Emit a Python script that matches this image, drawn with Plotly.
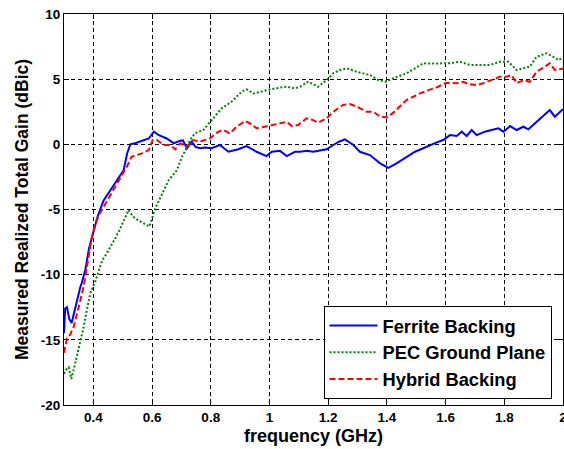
import plotly.graph_objects as go

ferrite_f = [0.300, 0.304, 0.310, 0.318, 0.326, 0.335, 0.345, 0.355, 0.361, 0.373, 0.385, 0.401, 0.415, 0.435, 0.455, 0.475, 0.490, 0.503, 0.515, 0.526, 0.545, 0.560, 0.575, 0.589, 0.606, 0.623, 0.650, 0.674, 0.696, 0.705, 0.719, 0.735, 0.748, 0.763, 0.780, 0.803, 0.831, 0.860, 0.894, 0.922, 0.956, 0.990, 1.008, 1.036, 1.059, 1.087, 1.104, 1.127, 1.149, 1.172, 1.195, 1.217, 1.237, 1.257, 1.286, 1.308, 1.342, 1.377, 1.405, 1.433, 1.467, 1.496, 1.524, 1.547, 1.570, 1.592, 1.615, 1.638, 1.655, 1.672, 1.689, 1.706, 1.734, 1.757, 1.780, 1.797, 1.820, 1.842, 1.865, 1.882, 1.910, 1.938, 1.955, 1.972, 1.995, 2.000]
ferrite_v = [-14.5, -12.6, -12.5, -13.4, -13.7, -12.8, -12.0, -11.0, -10.6, -9.6, -8.0, -6.6, -5.5, -4.3, -3.6, -2.9, -2.4, -2.0, -0.7, 0.0, 0.1, 0.2, 0.35, 0.45, 0.97, 0.7, 0.45, 0.08, 0.28, 0.3, -0.3, 0.2, -0.2, -0.3, -0.25, -0.3, -0.05, -0.57, -0.38, -0.13, -0.57, -0.9, -0.57, -0.5, -0.9, -0.57, -0.57, -0.5, -0.57, -0.5, -0.38, -0.05, 0.2, 0.38, -0.05, -0.57, -0.82, -1.46, -1.8, -1.46, -0.95, -0.57, -0.3, -0.05, 0.15, 0.33, 0.71, 0.64, 0.97, 0.64, 1.1, 0.71, 0.97, 1.1, 1.23, 0.97, 1.4, 1.1, 1.35, 1.15, 1.73, 2.25, 2.63, 2.12, 2.63, 2.7]

pec_f = [0.300, 0.304, 0.310, 0.316, 0.325, 0.334, 0.344, 0.355, 0.367, 0.378, 0.390, 0.407, 0.424, 0.430, 0.445, 0.458, 0.475, 0.492, 0.505, 0.520, 0.531, 0.543, 0.558, 0.571, 0.591, 0.611, 0.633, 0.657, 0.685, 0.702, 0.715, 0.729, 0.746, 0.775, 0.803, 0.837, 0.871, 0.905, 0.922, 0.945, 0.973, 1.002, 1.036, 1.059, 1.087, 1.104, 1.132, 1.150, 1.166, 1.195, 1.217, 1.240, 1.263, 1.297, 1.342, 1.371, 1.397, 1.422, 1.467, 1.496, 1.524, 1.547, 1.581, 1.615, 1.649, 1.683, 1.717, 1.751, 1.785, 1.814, 1.842, 1.870, 1.887, 1.910, 1.944, 1.967, 1.984, 1.995, 2.000]
pec_v = [-17.6, -17.45, -17.2, -17.1, -18.0, -17.2, -16.3, -15.2, -14.0, -12.7, -11.4, -10.5, -9.4, -8.9, -8.4, -7.9, -7.2, -6.45, -5.8, -5.04, -5.4, -5.7, -5.9, -6.06, -6.3, -4.9, -3.9, -2.74, -1.97, -0.95, -0.4, 0.33, 0.84, 1.1, 1.86, 2.76, 3.27, 4.04, 4.22, 3.9, 4.04, 4.22, 4.35, 4.42, 4.3, 4.42, 4.8, 4.6, 4.42, 4.93, 5.45, 5.7, 5.83, 5.57, 5.32, 4.93, 4.8, 5.07, 5.45, 5.83, 6.22, 6.2, 6.22, 6.22, 6.34, 6.09, 6.09, 6.09, 6.34, 6.34, 5.7, 5.83, 5.96, 6.72, 6.98, 6.72, 6.47, 6.6, 6.5]

hybrid_f = [0.300, 0.302, 0.310, 0.321, 0.333, 0.350, 0.367, 0.384, 0.395, 0.407, 0.420, 0.435, 0.450, 0.464, 0.485, 0.500, 0.514, 0.530, 0.548, 0.566, 0.589, 0.602, 0.616, 0.640, 0.662, 0.679, 0.696, 0.718, 0.740, 0.763, 0.797, 0.826, 0.843, 0.865, 0.888, 0.917, 0.939, 0.956, 0.984, 1.008, 1.036, 1.059, 1.076, 1.098, 1.127, 1.149, 1.166, 1.195, 1.217, 1.251, 1.274, 1.297, 1.331, 1.354, 1.377, 1.401, 1.422, 1.444, 1.467, 1.490, 1.513, 1.547, 1.575, 1.598, 1.615, 1.638, 1.660, 1.677, 1.706, 1.728, 1.757, 1.785, 1.808, 1.825, 1.842, 1.865, 1.887, 1.910, 1.938, 1.955, 1.972, 1.995, 2.000]
hybrid_v = [-16.0, -15.8, -14.9, -14.6, -14.0, -12.5, -10.9, -8.6, -7.1, -6.06, -5.4, -4.79, -4.2, -3.64, -2.87, -2.3, -1.72, -0.95, -0.82, -0.69, -0.44, 0.33, 0.33, -0.05, -0.05, -0.38, 0.08, -0.18, 0.33, 0.2, 0.46, 0.97, 1.1, 0.84, 1.35, 1.79, 1.53, 1.23, 1.35, 1.48, 1.66, 1.73, 1.4, 1.48, 2.0, 1.86, 1.66, 2.0, 2.5, 3.02, 3.09, 2.89, 2.5, 2.5, 2.12, 2.07, 2.43, 2.89, 3.4, 3.65, 3.91, 4.2, 4.42, 4.68, 4.73, 4.68, 4.8, 4.63, 4.55, 4.68, 4.93, 5.19, 5.19, 5.32, 4.68, 4.93, 4.8, 5.57, 5.96, 6.22, 5.7, 5.75, 5.8]

x_ticks = [0.4, 0.6, 0.8, 1.0, 1.2, 1.4, 1.6, 1.8, 2.0]
x_tick_labels = ["0.4", "0.6", "0.8", "1", "1.2", "1.4", "1.6", "1.8", "2"]
y_ticks = [-20, -15, -10, -5, 0, 5, 10]
y_tick_labels = ["-20", "-15", "-10", "-5", "0", "5", "10"]

fig = go.Figure()
fig.add_trace(go.Scatter(x=ferrite_f, y=ferrite_v, mode="lines", name="Ferrite Backing",
                         line=dict(color="rgb(0,0,255)", width=2, dash="solid")))
fig.add_trace(go.Scatter(x=pec_f, y=pec_v, mode="lines", name="PEC Ground Plane",
                         line=dict(color="rgb(0,128,0)", width=2, dash="2px,2px")))
fig.add_trace(go.Scatter(x=hybrid_f, y=hybrid_v, mode="lines", name="Hybrid Backing",
                         line=dict(color="rgb(255,0,0)", width=2, dash="6px,3px")))

tick_font = dict(family="Liberation Sans, Arial", size=13.5, color="black", weight="bold")

fig.update_layout(
    width=564, height=449,
    margin=dict(l=64, r=1, t=14, b=44, autoexpand=False),
    paper_bgcolor="white", plot_bgcolor="white",
    showlegend=True,
    legend=dict(x=0.977, y=0.015, xanchor="right", yanchor="bottom",
                bgcolor="white", bordercolor="black", borderwidth=1,
                font=dict(family="Liberation Sans, Arial", size=18.3, color="black", weight="bold"),
                tracegroupgap=0, itemwidth=48),
    xaxis=dict(range=[0.3, 2.0], tickvals=x_ticks, ticktext=x_tick_labels,
               showgrid=True, gridcolor="black", griddash="4px,3px", gridwidth=1,
               showline=True, linecolor="black", linewidth=1, mirror="ticks",
               ticks="inside", ticklen=5, tickcolor="black", zeroline=False,
               tickfont=tick_font, automargin=False, ticklabeloverflow="allow",
               title=dict(text="frequency (GHz)",
                          font=dict(family="Liberation Sans, Arial", size=18, color="black", weight="bold"),
                          standoff=5)),
    yaxis=dict(range=[-20, 10], tickvals=y_ticks, ticktext=y_tick_labels,
               showgrid=True, gridcolor="black", griddash="4px,3px", gridwidth=1,
               showline=True, linecolor="black", linewidth=1, mirror="ticks",
               ticks="inside", ticklen=5, tickcolor="black", zeroline=False,
               tickfont=tick_font, automargin=False, ticklabeloverflow="allow",
               title=dict(text="Measured Realized Total Gain (dBic)",
                          font=dict(family="Liberation Sans, Arial", size=17.5, color="black", weight="bold"),
                          standoff=7)),
)

fig.write_html("out.html", config={"displayModeBar": False},
               post_script="document.body.style.margin='0';document.body.style.overflow='hidden';")
